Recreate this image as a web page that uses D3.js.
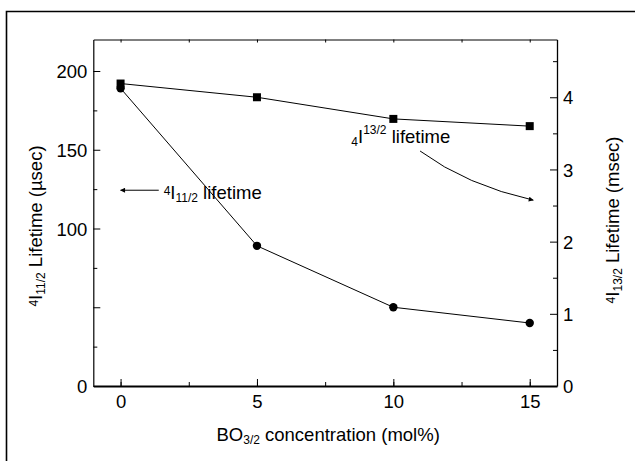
<!DOCTYPE html>
<html>
<head>
<meta charset="utf-8">
<script src="https://cdn.jsdelivr.net/npm/d3@7"></script>
<style>
html,body{margin:0;padding:0;background:#fff;}
svg{display:block;}
text{font-family:"Liberation Sans",Arial,Helvetica,sans-serif;fill:#000;}
</style>
</head>
<body>
<svg id="chart" width="635" height="461"></svg>
<script>
// ---- data ----
const concentration = [0, 5, 10, 15];               // BO3/2 mol%
const lifetime11 = [189, 89, 50, 40];               // 4I11/2 lifetime (usec), left axis
const lifetime13 = [4.19, 4.0, 3.70, 3.60];         // 4I13/2 lifetime (msec), right axis
const xTicks = [0, 5, 10, 15];
const xMinorTicks = [0, 2.5, 5, 7.5, 10, 12.5, 15];
const yLeftLabels = [0, 100, 150, 200];
const yLeftMajor = [0, 50, 100, 150, 200];
const yLeftMinor = [25, 75, 125, 175];
const yRightTicks = [0, 1, 2, 3, 4];
const yRightMinor = [0.5, 1.5, 2.5, 3.5, 4.5];

const W = 635, H = 461;
const L = 93.3, R = 557, T = 39.5, B = 386;
const FS = 18.5, SFS = 12;

const svg = d3.select("#chart");
svg.append("rect").attr("width", W).attr("height", H).attr("fill", "#fff");

// outer frame (top + left visible)
svg.append("path").attr("d", `M6.5,${H} V11.5 H${W}`).attr("fill", "none")
  .attr("stroke", "#000").attr("stroke-width", 1.6);

const x = d3.scaleLinear().domain([-1, 16]).range([L, R]);
const yL = d3.scaleLinear().domain([0, 220]).range([B, T]);
const yR = d3.scaleLinear().domain([0, 4.8]).range([B, T]);

function style(g, w) {
  g.attr("font-size", FS).attr("font-family", null);
  g.selectAll(".domain").attr("stroke", "#000").attr("stroke-width", w);
  g.selectAll(".tick line").attr("stroke", "#000").attr("stroke-width", 1);
  g.selectAll("text").style("font-size", FS + "px");
}

// bottom axis
const gb = svg.append("g").attr("transform", `translate(0,${B})`)
  .call(d3.axisBottom(x).tickValues(xMinorTicks).tickSizeInner(-4).tickSizeOuter(0).tickFormat(""));
style(gb, 2);
const gb2 = svg.append("g").attr("transform", `translate(0,${B})`)
  .call(d3.axisBottom(x).tickValues(xTicks).tickSizeInner(-7).tickSizeOuter(0).tickFormat(d3.format("d")));
gb2.select(".domain").remove();
style(gb2, 2);
gb2.selectAll("text").attr("y", 22).attr("dy", 0);

// top axis
const gt = svg.append("g").attr("transform", `translate(0,${T})`)
  .call(d3.axisTop(x).tickValues(xMinorTicks).tickSizeInner(-3).tickSizeOuter(0).tickFormat(""));
style(gt, 1);

// left axis
const gl = svg.append("g").attr("transform", `translate(${L},0)`)
  .call(d3.axisLeft(yL).tickValues(yLeftMinor).tickSizeInner(-4).tickSizeOuter(0).tickFormat(""));
style(gl, 1.2);
const gl2 = svg.append("g").attr("transform", `translate(${L},0)`)
  .call(d3.axisLeft(yL).tickValues(yLeftMajor).tickSizeInner(-7).tickSizeOuter(0)
    .tickFormat(d => yLeftLabels.includes(d) ? d3.format("d")(d) : ""));
gl2.select(".domain").remove();
style(gl2, 1);
gl2.selectAll("text").attr("x", -6).attr("dy", "0.36em");

// right axis
const gr = svg.append("g").attr("transform", `translate(${R},0)`)
  .call(d3.axisRight(yR).tickValues(yRightMinor).tickSizeInner(-4).tickSizeOuter(0).tickFormat(""));
style(gr, 1.3);
const gr2 = svg.append("g").attr("transform", `translate(${R},0)`)
  .call(d3.axisRight(yR).tickValues(yRightTicks).tickSizeInner(-7).tickSizeOuter(0).tickFormat(d3.format("d")));
gr2.select(".domain").remove();
style(gr2, 1);
gr2.selectAll("text").attr("x", 6).attr("dy", "0.36em");

// axis titles
const xt = svg.append("text").attr("x", (L + R) / 2 + 3).attr("y", 441).attr("text-anchor", "middle").style("font-size", FS + "px");
xt.append("tspan").text("BO");
xt.append("tspan").style("font-size", SFS + "px").attr("dy", 3).text("3/2");
xt.append("tspan").attr("dy", -3).text(" concentration (mol%)");

function rotTitle(cx, cy, sub, rest) {
  const t = svg.append("text").attr("transform", `translate(${cx},${cy}) rotate(-90)`)
    .attr("text-anchor", "middle").style("font-size", FS + "px");
  t.append("tspan").style("font-size", SFS + "px").attr("dy", -4).text("4");
  t.append("tspan").attr("dy", 4).text("I");
  t.append("tspan").style("font-size", SFS + "px").attr("dy", 3).text(sub);
  t.append("tspan").attr("dy", -3).text(rest);
}
rotTitle(42, 226, "11/2", " Lifetime (\u00b5sec)");
rotTitle(619, 220, "13/2", " Lifetime (msec)");

// series lines & markers
const lineL = d3.line().x((d, i) => x(concentration[i])).y(d => yL(d));
const lineR = d3.line().x((d, i) => x(concentration[i])).y(d => yR(d));
svg.append("path").datum(lifetime11).attr("d", lineL).attr("fill", "none").attr("stroke", "#000").attr("stroke-width", 1);
svg.append("path").datum(lifetime13).attr("d", lineR).attr("fill", "none").attr("stroke", "#000").attr("stroke-width", 1);
svg.selectAll("rect.sq").data(lifetime13).join("rect").attr("class", "sq")
  .attr("x", (d, i) => x(concentration[i]) - 4).attr("y", d => yR(d) - 4)
  .attr("width", 8).attr("height", 8).attr("fill", "#000");
svg.selectAll("circle.ci").data(lifetime11).join("circle").attr("class", "ci")
  .attr("cx", (d, i) => x(concentration[i])).attr("cy", d => yL(d)).attr("r", 4.2).attr("fill", "#000");

// arrow marker
const defs = svg.append("defs");
defs.append("marker").attr("id", "ah").attr("viewBox", "0 0 10 10").attr("refX", 9).attr("refY", 5)
  .attr("markerWidth", 7).attr("markerHeight", 5).attr("markerUnits", "userSpaceOnUse").attr("orient", "auto")
  .append("path").attr("d", "M0,0 L10,5 L0,10 z").attr("fill", "#000");

// annotation 1: arrow pointing to left axis
const a1y = yL(124.3);
svg.append("line").attr("x1", x(1.4)).attr("y1", a1y).attr("x2", x(0)).attr("y2", a1y)
  .attr("stroke", "#000").attr("stroke-width", 1).attr("marker-end", "url(#ah)");
const t1 = svg.append("text").attr("x", x(1.58)).attr("y", yL(119)).style("font-size", FS + "px");
t1.append("tspan").style("font-size", SFS + "px").attr("dy", -3.5).text("4");
t1.append("tspan").attr("dy", 3.5).text("I");
t1.append("tspan").style("font-size", SFS + "px").attr("dy", 3).text("11/2");
t1.append("tspan").attr("dy", -3).text(" lifetime");

// annotation 2: curved arrow pointing to right axis
const t2 = svg.append("text").attr("x", x(8.46)).attr("y", yL(154)).style("font-size", FS + "px");
t2.append("tspan").style("font-size", SFS + "px").attr("dy", 2.5).text("4");
t2.append("tspan").attr("dy", -2.5).text("I");
t2.append("tspan").style("font-size", SFS + "px").attr("dy", -9.5).text("13/2");
t2.append("tspan").attr("dy", 9.5).text(" lifetime");
const p0 = [x(10.98), yL(149.2)], c = [x(12.69), yL(127.4)], p2 = [x(15.13), yL(118)];
svg.append("path").attr("d", `M${p0[0]},${p0[1]} Q${c[0]},${c[1]} ${p2[0]},${p2[1]}`)
  .attr("fill", "none").attr("stroke", "#000").attr("stroke-width", 1).attr("marker-end", "url(#ah)");
</script>
</body>
</html>
